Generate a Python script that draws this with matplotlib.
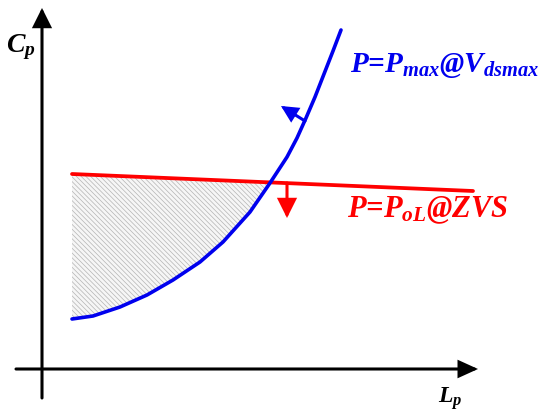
import numpy as np
import matplotlib
matplotlib.use("Agg")
import matplotlib.pyplot as plt

plt.rcParams['mathtext.fontset'] = 'custom'
plt.rcParams['mathtext.it'] = 'Liberation Serif:italic:bold'
plt.rcParams['mathtext.rm'] = 'Liberation Serif:bold'
plt.rcParams['mathtext.bf'] = 'Liberation Serif:bold'
plt.rcParams['hatch.linewidth'] = 0.5
plt.rcParams['hatch.color'] = '#b4b4b4'

# schematic curves (arbitrary units, origin = axis corner)
lp_vmax = [30, 51, 78, 105, 131, 158, 181, 208, 228, 245, 255, 264, 273, 282, 291, 299]
cp_vmax = [50, 53, 62, 74, 89, 107, 127, 157, 186, 212, 231, 251, 272, 295, 318, 339]
lp_zvs = [30, 431]
cp_zvs = [195, 178]
n_region = 9  # points of the blue curve up to the crossing

fig = plt.figure(figsize=(5.5, 4.15), dpi=100)
ax = fig.add_axes([0, 0, 1, 1])
ax.set_xlim(-42, 508)
ax.set_ylim(-46, 369)
ax.axis('off')


def arrow(tip, base, color, hl, hw):
    ax.annotate('', xy=tip, xytext=base,
                arrowprops=dict(arrowstyle=f'-|>,head_length={hl},head_width={hw}',
                                mutation_scale=1, lw=2.2, color=color,
                                shrinkA=0, shrinkB=0, joinstyle='miter'),
                zorder=5)


# axes with arrows
arrow((436, 0), (-26, 0), 'black', 11, 5)
arrow((0, 361), (0, -29), 'black', 11, 5.5)

# shaded feasible region
xr = np.array(lp_vmax[:n_region], dtype=float)
yr = np.array(cp_vmax[:n_region], dtype=float)
ytop = np.interp(xr, lp_zvs, cp_zvs)
ax.fill_between(xr, yr, ytop, facecolor='#f6f6f6', edgecolor='#b4b4b4',
                hatch='\\\\\\\\\\\\\\', linewidth=0, zorder=1)

ax.plot(lp_zvs, cp_zvs, color='#ff0000', lw=2.7, solid_capstyle='round', zorder=3)
ax.plot(lp_vmax, cp_vmax, color='#0000ee', lw=2.6, solid_capstyle='round',
        solid_joinstyle='round', zorder=4)

# direction arrows
arrow((239, 263), (263, 248), '#0000ee', 9, 4.5)
arrow((245, 151), (245, 186), '#ff0000', 11, 5.5)

tkw = dict(family='Liberation Serif', weight='bold', style='italic', va='baseline')
ax.text(-36, 317, r'C$_p$', fontsize=20, color='black', **tkw)
ax.text(396, -34, r'L$_p$', fontsize=17, color='black', **tkw)
ax.text(308, 297, r'P=P$_{max}$@V$_{dsmax}$', fontsize=21, color='#0000ee', **tkw)
ax.text(305, 152, r'P=P$_{oL}$@ZVS', fontsize=22, color='#ff0000', **tkw)

fig.savefig('out.png', dpi=100)
